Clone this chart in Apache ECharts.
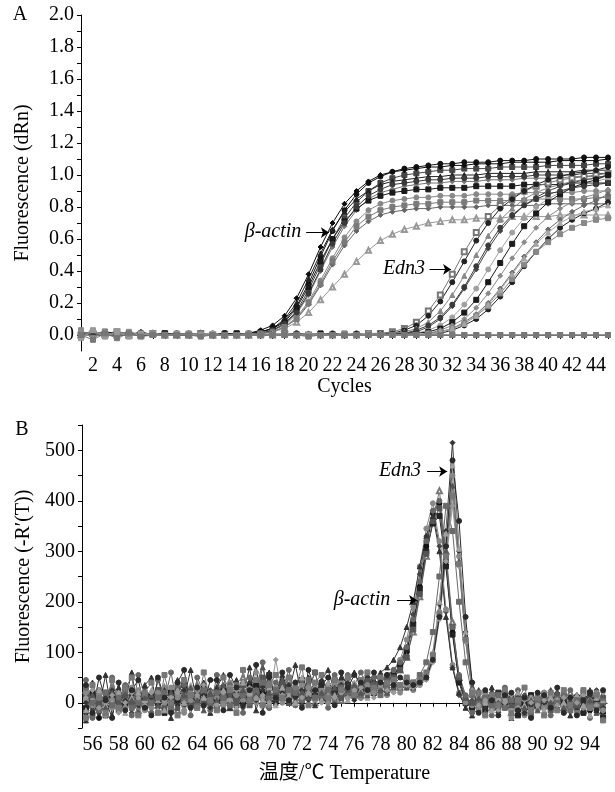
<!DOCTYPE html>
<html><head><meta charset="utf-8">
<script src="https://cdn.jsdelivr.net/npm/echarts@6/dist/echarts.min.js"></script>
<style>html,body{margin:0;padding:0;background:#fff}#c{width:615px;height:792px}</style>
</head><body><div id="c"></div>
<script>
// ---------- Panel A: amplification curves ----------
const cycles = [1,2,3,4,5,6,7,8,9,10,11,12,13,14,15,16,17,18,19,20,21,22,23,24,25,26,27,28,29,30,31,32,33,34,35,36,37,38,39,40,41,42,43,44,45];
const cycleLabels = [2,4,6,8,10,12,14,16,18,20,22,24,26,28,30,32,34,36,38,40,42,44];
const dRnLabels = [0,0.2,0.4,0.6,0.8,1.0,1.2,1.4,1.6,1.8,2.0];

const bActin1 = [0.01,0.02,0.00,0.01,0.00,0.01,0.00,0.00,0.01,0.00,0.00,0.00,0.01,0.00,0.01,
 0.02,0.04,0.09,0.18,0.32,0.49,0.65,0.78,0.88,0.95,0.99,1.02,1.04,1.05,1.06,
 1.07,1.07,1.08,1.08,1.08,1.09,1.09,1.09,1.10,1.10,1.10,1.10,1.11,1.11,1.11];
const bActin2 = [0.00,0.01,0.02,0.00,0.01,0.00,0.00,0.01,0.00,0.00,0.01,0.00,0.00,0.01,0.00,
 0.01,0.03,0.07,0.15,0.28,0.44,0.60,0.73,0.83,0.90,0.95,0.98,1.00,1.01,1.02,
 1.03,1.03,1.04,1.04,1.04,1.05,1.05,1.05,1.05,1.06,1.06,1.06,1.06,1.07,1.07];
const bActin3 = [0.02,0.00,0.01,0.02,0.00,0.00,0.01,0.00,0.00,0.01,0.00,0.00,0.00,0.00,0.01,
 0.02,0.04,0.10,0.20,0.35,0.51,0.66,0.77,0.85,0.90,0.94,0.96,0.97,0.98,0.99,
 0.99,1.00,1.00,1.00,1.01,1.01,1.01,1.01,1.02,1.02,1.02,1.02,1.03,1.03,1.03];
const bActin4 = [0.00,0.01,0.00,0.02,0.01,0.00,0.00,0.00,0.01,0.00,0.00,0.01,0.00,0.00,0.00,
 0.01,0.03,0.06,0.13,0.25,0.40,0.55,0.68,0.78,0.85,0.89,0.91,0.93,0.94,0.95,
 0.95,0.96,0.96,0.96,0.97,0.97,0.97,0.98,0.98,0.98,0.98,0.99,0.99,0.99,0.99];
const bActin5 = [0.01,0.00,0.02,0.01,0.00,0.01,0.00,0.01,0.00,0.00,0.00,0.00,0.01,0.00,0.00,
 0.02,0.04,0.08,0.17,0.30,0.46,0.60,0.71,0.79,0.84,0.87,0.89,0.90,0.91,0.91,
 0.92,0.92,0.92,0.93,0.93,0.93,0.93,0.94,0.94,0.94,0.94,0.95,0.95,0.95,0.95];
const bActin6 = [0.00,0.02,0.01,0.00,0.00,0.01,0.01,0.00,0.00,0.01,0.00,0.00,0.00,0.01,0.00,
 0.01,0.02,0.05,0.11,0.21,0.34,0.48,0.61,0.71,0.78,0.82,0.84,0.85,0.86,0.86,
 0.87,0.87,0.87,0.88,0.88,0.88,0.88,0.89,0.89,0.89,0.89,0.89,0.90,0.90,0.90];
const bActin7 = [0.01,0.01,0.00,0.00,0.02,0.00,0.00,0.00,0.01,0.00,0.01,0.00,0.00,0.00,0.01,
 0.01,0.02,0.05,0.10,0.19,0.31,0.44,0.56,0.65,0.71,0.75,0.77,0.78,0.79,0.79,
 0.80,0.80,0.80,0.80,0.81,0.81,0.81,0.81,0.81,0.82,0.82,0.82,0.82,0.82,0.82];
const bActin8 = [0.00,0.01,0.01,0.00,0.00,0.00,0.01,0.00,0.00,0.00,0.01,0.00,0.00,0.00,0.00,
 0.01,0.02,0.04,0.08,0.14,0.22,0.30,0.38,0.46,0.53,0.59,0.63,0.66,0.68,0.70,
 0.71,0.72,0.72,0.73,0.73,0.73,0.74,0.74,0.74,0.74,0.75,0.75,0.75,0.75,0.75];
const bActin9 = [0.01,0.00,0.00,0.01,0.00,0.02,0.00,0.00,0.00,0.01,0.00,0.00,0.01,0.00,0.01,
 0.03,0.06,0.12,0.23,0.38,0.55,0.70,0.82,0.90,0.96,1.00,1.02,1.03,1.04,1.05,
 1.05,1.06,1.06,1.07,1.07,1.07,1.08,1.08,1.08,1.08,1.09,1.09,1.09,1.09,1.10];
const bActin10 = [0.00,0.00,0.01,0.01,0.00,0.00,0.00,0.01,0.00,0.00,0.00,0.01,0.00,0.00,0.00,
 0.01,0.03,0.07,0.14,0.26,0.41,0.57,0.70,0.80,0.87,0.91,0.94,0.95,0.96,0.97,
 0.97,0.98,0.98,0.98,0.99,0.99,0.99,0.99,1.00,1.00,1.00,1.00,1.01,1.01,1.01];
const bActin11 = [0.01,0.02,0.00,0.00,0.01,0.00,0.00,0.01,0.00,0.00,0.00,0.00,0.00,0.01,0.00,
 0.01,0.02,0.05,0.10,0.20,0.32,0.46,0.58,0.68,0.74,0.78,0.80,0.81,0.82,0.82,
 0.83,0.83,0.83,0.84,0.84,0.84,0.84,0.84,0.85,0.85,0.85,0.85,0.85,0.86,0.86];

const edn3_1 = [0.00,0.01,0.00,0.02,0.00,0.00,0.01,0.00,0.00,0.00,0.01,0.00,0.00,0.00,0.00,
 0.00,0.00,0.01,0.00,0.00,0.00,0.00,0.00,0.00,0.01,0.01,0.02,0.04,0.08,0.15,
 0.25,0.38,0.52,0.64,0.74,0.81,0.86,0.90,0.93,0.95,0.97,0.98,0.99,1.00,1.01];
const edn3_2 = [0.01,0.00,0.00,0.01,0.00,0.00,0.00,0.01,0.00,0.00,0.00,0.00,0.01,0.00,0.00,
 0.00,0.00,0.00,0.01,0.00,0.00,0.00,0.00,0.01,0.00,0.01,0.01,0.03,0.06,0.12,
 0.21,0.33,0.46,0.59,0.70,0.79,0.85,0.90,0.94,0.97,0.99,1.01,1.02,1.03,1.05];
const edn3_3 = [0.00,0.00,0.01,0.00,0.01,0.00,0.00,0.00,0.00,0.01,0.00,0.00,0.00,0.00,0.01,
 0.00,0.00,0.00,0.00,0.01,0.00,0.00,0.00,0.00,0.00,0.00,0.01,0.02,0.04,0.08,
 0.15,0.25,0.37,0.50,0.62,0.72,0.79,0.85,0.89,0.92,0.94,0.96,0.97,0.98,1.00];
const edn3_4 = [0.01,0.01,0.00,0.00,0.00,0.01,0.00,0.00,0.01,0.00,0.00,0.00,0.00,0.00,0.00,
 0.00,0.01,0.00,0.00,0.00,0.00,0.01,0.00,0.00,0.00,0.00,0.00,0.01,0.02,0.05,
 0.10,0.18,0.29,0.41,0.54,0.65,0.74,0.81,0.86,0.90,0.93,0.95,0.97,0.98,1.00];
const edn3_5 = [0.00,0.00,0.00,0.01,0.00,0.00,0.01,0.00,0.00,0.00,0.00,0.01,0.00,0.00,0.00,
 0.00,0.00,0.00,0.01,0.00,0.00,0.00,0.00,0.00,0.01,0.00,0.00,0.00,0.01,0.03,
 0.06,0.11,0.19,0.29,0.41,0.53,0.64,0.73,0.80,0.85,0.89,0.92,0.94,0.96,0.98];
const edn3_6 = [0.01,0.00,0.01,0.00,0.00,0.00,0.00,0.01,0.00,0.00,0.00,0.00,0.00,0.01,0.00,
 0.00,0.00,0.00,0.00,0.00,0.01,0.00,0.00,0.00,0.00,0.00,0.00,0.00,0.01,0.02,
 0.04,0.08,0.14,0.22,0.33,0.45,0.57,0.68,0.76,0.83,0.88,0.92,0.95,0.97,1.00];
const edn3_7 = [0.00,0.01,0.00,0.00,0.01,0.00,0.00,0.00,0.00,0.00,0.01,0.00,0.00,0.00,0.00,
 0.00,0.00,0.01,0.00,0.00,0.00,0.00,0.01,0.00,0.00,0.00,0.00,0.00,0.00,0.01,
 0.03,0.06,0.10,0.17,0.26,0.37,0.48,0.58,0.67,0.74,0.79,0.83,0.86,0.88,0.91];
const edn3_8 = [0.00,0.00,0.01,0.00,0.00,0.00,0.01,0.00,0.00,0.01,0.00,0.00,0.00,0.00,0.00,
 0.00,0.00,0.00,0.00,0.01,0.00,0.00,0.00,0.00,0.00,0.01,0.00,0.00,0.00,0.01,
 0.02,0.04,0.08,0.13,0.20,0.29,0.39,0.49,0.58,0.66,0.72,0.77,0.81,0.84,0.88];
const edn3_9 = [0.01,0.00,0.00,0.00,0.01,0.00,0.00,0.00,0.01,0.00,0.00,0.00,0.01,0.00,0.00,
 0.00,0.00,0.00,0.00,0.00,0.00,0.01,0.00,0.00,0.00,0.00,0.00,0.01,0.00,0.00,
 0.01,0.03,0.06,0.10,0.16,0.24,0.33,0.43,0.52,0.60,0.67,0.72,0.76,0.79,0.83];
const edn3_10 = [0.00,0.01,0.00,0.00,0.00,0.00,0.01,0.00,0.00,0.00,0.00,0.00,0.00,0.00,0.01,
 0.00,0.00,0.00,0.00,0.00,0.00,0.00,0.01,0.00,0.00,0.00,0.00,0.00,0.00,0.01,
 0.02,0.04,0.07,0.12,0.18,0.26,0.35,0.44,0.52,0.58,0.63,0.67,0.70,0.72,0.73];
const edn3_11 = [0.00,0.00,0.00,0.01,0.00,0.01,0.00,0.00,0.00,0.00,0.00,0.01,0.00,0.00,0.00,
 0.00,0.01,0.00,0.00,0.00,0.00,0.00,0.00,0.00,0.00,0.01,0.00,0.00,0.00,0.00,
 0.02,0.04,0.07,0.12,0.19,0.28,0.38,0.48,0.57,0.64,0.70,0.74,0.77,0.79,0.81];
const edn3_12 = [0.01,0.00,0.00,0.00,0.00,0.00,0.00,0.01,0.00,0.00,0.00,0.00,0.00,0.00,0.00,
 0.00,0.00,0.00,0.01,0.00,0.00,0.00,0.00,0.00,0.00,0.00,0.01,0.01,0.03,0.06,
 0.11,0.19,0.30,0.43,0.56,0.67,0.75,0.81,0.85,0.88,0.90,0.92,0.93,0.94,0.95];

const ntc1 = [0.03,-0.02,0.02,-0.01,0.02,0.00,0.01,0.00,0.00,0.01,0.00,0.00,0.00,0.00,0.00,
 0.00,0.00,0.00,0.00,0.00,0.00,0.00,0.00,0.00,0.00,0.00,0.00,0.00,0.00,0.00,
 0.00,0.00,0.00,0.00,0.00,0.00,0.00,0.00,0.00,0.00,0.00,0.00,0.00,0.00,0.00];
const ntc2 = [-0.02,0.03,-0.01,0.02,-0.01,0.01,0.00,0.00,0.01,0.00,0.00,0.00,0.00,0.00,0.00,
 0.00,0.00,0.00,0.00,0.00,0.00,0.00,0.00,0.00,0.00,0.00,0.00,0.00,0.00,0.00,
 0.00,0.00,0.00,0.00,0.00,0.00,0.00,0.00,0.00,0.00,0.00,0.00,0.00,0.00,0.00];
const ntc3 = [0.00,-0.03,0.01,-0.02,0.01,-0.01,0.00,0.00,0.00,0.00,-0.01,0.00,0.00,0.00,0.00,
 0.00,0.00,0.00,0.00,-0.01,0.00,0.00,0.00,0.00,0.00,0.00,0.00,0.00,0.00,0.00,
 0.00,0.00,0.00,0.00,0.00,0.00,0.00,0.00,0.00,0.00,0.00,0.00,0.00,0.00,0.00];

// ---------- Panel B: melt curves ----------
const temps = [55.5,56,56.5,57,57.5,58,58.5,59,59.5,60,
 60.5,61,61.5,62,62.5,63,63.5,64,64.5,65,
 65.5,66,66.5,67,67.5,68,68.5,69,69.5,70,
 70.5,71,71.5,72,72.5,73,73.5,74,74.5,75,
 75.5,76,76.5,77,77.5,78,78.5,79,79.5,80,
 80.5,81,81.5,82,82.5,83,83.5,84,84.5,85,
 85.5,86,86.5,87,87.5,88,88.5,89,89.5,90,
 90.5,91,91.5,92,92.5,93,93.5,94,94.5,95];
const tempLabels = [56,58,60,62,64,66,68,70,72,74,76,78,80,82,84,86,88,90,92,94];
const meltLabels = [0,100,200,300,400,500];

const meltB1 = [-20,5,-30,10,-5,15,-10,20,0,10,
 -5,25,5,-15,20,0,10,-10,30,5,
 15,-5,25,10,0,35,5,20,-10,15,
 40,10,25,0,30,15,5,35,10,20,
 15,30,10,25,35,30,45,55,70,100,
 160,230,310,375,395,280,140,45,5,-10,
 10,-5,15,0,-10,5,-15,10,-20,0,
 10,-5,5,15,-10,0,10,-15,5,-20];
const meltB2 = [10,-15,20,-5,25,0,15,-20,5,30,
 0,15,-10,25,10,-5,20,5,0,25,
 -5,20,10,30,-10,15,45,0,25,10,
 5,30,15,-5,20,40,10,25,0,30,
 25,10,35,20,40,45,55,65,80,110,
 175,255,330,380,310,180,70,15,-5,5,
 -10,5,20,-5,10,0,-15,15,5,-10,
 0,20,-10,5,-5,15,0,-10,25,-25];
const meltB3 = [25,0,-10,15,30,-5,10,20,-15,5,
 20,-5,30,10,-15,15,0,35,10,-5,
 30,5,-10,20,50,10,25,0,40,15,
 10,45,5,20,35,0,25,15,30,5,
 20,35,15,30,25,40,40,50,65,90,
 140,210,290,360,420,300,160,50,10,-5,
 5,15,-10,10,0,-20,10,5,-5,15,
 -5,10,0,-10,20,5,-15,10,0,5];
const meltB4 = [-10,20,5,-25,15,10,-5,25,10,-10,
 15,0,-20,20,5,35,-5,10,20,0,
 5,30,15,-5,20,10,35,15,55,5,
 25,0,15,45,10,20,40,5,25,15,
 35,20,25,40,30,35,40,55,75,105,
 155,225,300,355,370,270,135,40,0,-10,
 0,-15,5,20,-5,10,-25,0,15,-10,
 5,-10,15,0,-5,10,-20,5,15,-30];
const meltB5 = [5,-20,15,0,-10,20,5,-5,25,0,
 -10,10,30,0,15,-20,25,10,-5,15,
 20,0,40,-5,25,15,0,30,10,25,
 15,25,-5,35,15,5,20,30,15,40,
 10,25,40,15,30,50,50,65,85,125,
 190,270,345,395,320,185,75,20,0,-5,
 10,0,-10,5,15,-5,0,-25,10,5,
 -10,5,15,-5,0,10,5,-10,-5,10];
const meltB6 = [15,-25,0,20,5,-15,30,0,15,-5,
 5,25,-10,5,30,10,-5,20,0,10,
 -10,15,20,5,35,-5,15,50,5,20,
 35,5,20,10,25,60,10,20,45,10,
 25,15,30,45,20,35,45,50,65,90,
 145,215,295,360,385,285,150,50,10,0,
 -5,10,5,-10,20,0,10,-20,0,5,
 15,-15,0,10,-5,-10,5,20,-10,0];
const meltB7 = [-35,40,-10,55,-25,30,5,60,-20,35,
 50,-15,25,-30,45,10,65,-5,40,-20,
 30,55,-10,45,15,70,-15,35,60,0,
 55,20,75,10,50,-5,45,65,20,50,
 40,60,30,55,45,60,70,85,110,150,
 200,270,330,370,300,170,70,20,-10,-25,
 25,-20,30,-15,15,-30,20,5,-25,15,
 -20,25,-10,20,-25,15,-5,25,-15,-30];
const meltB8 = [45,-30,25,-15,50,-5,35,-25,55,15,
 -20,45,5,60,-10,35,-25,50,20,-15,
 55,-5,35,20,-20,50,25,80,-10,40,
 25,65,-5,45,30,60,15,-10,55,35,
 55,35,60,30,50,45,55,65,80,110,
 165,240,320,380,400,290,150,55,15,-20,
 -15,20,-25,15,30,-10,25,-20,10,-5,
 20,-25,10,-15,25,-5,15,-30,20,-10];
const meltE1 = [0,15,-20,10,25,-10,5,15,-5,20,
 10,-10,15,5,-5,25,10,0,15,-10,
 25,10,0,20,15,40,5,25,10,0,
 20,35,10,25,5,15,30,10,20,35,
 15,5,20,30,15,25,20,30,25,35,
 30,40,55,95,195,340,515,300,140,40,
 5,-10,10,20,-5,0,15,-20,-5,10,
 0,15,-10,5,10,-15,0,15,5,-10];
const meltE2 = [20,-5,10,-25,5,15,-10,30,5,-15,
 -5,20,0,30,10,-15,5,25,-5,20,
 10,-5,30,15,5,20,60,10,-5,30,
 0,20,40,15,30,10,25,0,40,20,
 30,20,10,35,20,30,15,35,20,30,
 25,35,50,90,180,310,450,290,125,25,
 -10,15,0,-5,10,-30,5,10,-15,0,
 20,-5,5,-20,0,10,-10,5,20,-15];
const meltE3 = [-15,10,25,-5,0,20,-20,10,20,5,
 25,5,-15,15,25,0,35,-10,10,5,
 0,25,10,-10,40,20,10,5,30,-5,
 30,15,0,50,20,25,5,40,15,25,
 5,40,25,10,30,20,35,25,30,40,
 35,45,60,100,200,335,470,305,140,30,
 15,0,-15,10,5,-10,20,-5,10,-10,
 -15,10,5,0,-10,15,-5,-25,10,5];
const meltE4 = [30,0,-15,20,-5,10,25,-10,0,15,
 0,10,20,-10,35,5,15,-5,25,0,
 20,10,-5,35,15,0,20,40,10,25,
 10,25,20,5,45,10,15,25,5,30,
 20,30,15,25,35,15,30,40,30,45,
 40,55,80,140,250,390,340,200,80,15,
 0,10,-5,15,-10,5,0,10,-25,5,
 10,-10,0,15,-15,5,20,0,-5,10];
const meltE5 = [-25,15,5,-10,20,0,15,5,-20,10,
 15,-5,10,20,-10,15,30,5,-15,20,
 5,35,15,0,25,5,15,70,20,10,
 45,0,30,20,10,35,20,15,30,10,
 25,35,20,15,40,25,20,30,35,30,
 30,40,50,85,175,300,430,280,130,30,
 10,-20,5,0,15,-5,10,-10,5,-15,
 5,0,20,-10,5,-5,10,5,-20,15];
const meltE6 = [10,25,-10,5,15,-20,0,20,10,-5,
 20,-15,5,10,20,0,-10,15,35,5,
 -5,20,5,25,-5,30,10,15,0,85,
 15,5,35,10,20,30,0,15,10,20,
 10,25,30,20,10,35,25,20,30,35,
 30,35,45,80,165,280,390,270,120,25,
 -5,5,10,-15,0,15,-10,5,0,-5,
 5,15,-5,10,-5,0,15,-10,-5,20];
const meltE7 = [-30,35,10,-20,45,-10,30,50,-25,20,
 40,-20,55,0,-25,45,15,-10,60,5,
 -15,50,25,-20,65,5,45,-5,35,55,
 10,50,30,70,-5,40,55,10,45,25,
 50,15,45,60,30,50,40,45,35,50,
 40,45,60,95,175,290,410,275,125,20,
 20,-25,15,-5,25,-20,5,30,-15,10,
 -25,20,-15,25,-5,-20,25,-10,15,-35];
const meltE8 = [35,-20,50,5,-30,40,-15,25,45,-10,
 -25,50,10,-20,40,65,-10,30,-5,45,
 45,-15,55,30,-5,25,75,-20,50,10,
 60,5,40,-10,65,25,35,50,-5,60,
 30,55,40,25,60,40,55,35,50,40,
 35,40,50,85,170,310,480,360,170,40,
 -20,25,5,-25,15,20,-15,10,-30,20,
 15,-10,30,-20,10,-25,5,20,-15,25];

// annotation arrows (data coordinates: start, end)
const arrowA_actin = [[19.8, 0.64], [21.7, 0.64]];
const arrowA_edn3 = [[30.1, 0.41], [31.9, 0.41]];
const arrowB_edn3 = [[81.56, 458], [83.09, 458]];
const arrowB_actin = [[79.26, 203], [80.79, 203]];

const serif = '"Liberation Serif","DejaVu Serif",serif';
const FS = 20;
const pair = (xs, ys) => xs.map((x, i) => [x, ys[i]]);

const ampDefs = [
  [bActin1,'#111','circle'],[bActin2,'#444','rect'],[bActin3,'#222','triangle'],
  [bActin4,'#777','diamond'],[bActin5,'#1a1a1a','rect'],[bActin6,'#888','circle'],
  [bActin7,'#666','diamond'],[bActin8,'#999','emptyTriangle'],[bActin9,'#0d0d0d','diamond'],
  [bActin10,'#3a3a3a','circle'],[bActin11,'#7a7a7a','rect'],
  [edn3_1,'#777','emptyRect'],[edn3_2,'#222','circle'],[edn3_3,'#888','triangle'],
  [edn3_4,'#444','diamond'],[edn3_5,'#a0a0a0','circle'],[edn3_6,'#1a1a1a','rect'],
  [edn3_7,'#8a8a8a','diamond'],[edn3_8,'#6a6a6a','diamond'],[edn3_9,'#222','circle'],
  [edn3_10,'#888','rect'],[edn3_11,'#a5a5a5','triangle'],[edn3_12,'#3a3a3a','circle'],
  [ntc1,'#8c8c8c','rect'],[ntc2,'#999','rect'],[ntc3,'#777','rect']
];
const meltDefs = [
  [meltB1,'#111','circle'],[meltB2,'#444','diamond'],[meltB3,'#777','emptyTriangle'],
  [meltB4,'#222','rect'],[meltB5,'#888','circle'],[meltB6,'#555','rect'],
  [meltB7,'#333','triangle'],[meltB8,'#666','circle'],
  [meltE1,'#333','diamond'],[meltE2,'#888','circle'],[meltE3,'#a0a0a0','triangle'],
  [meltE4,'#6a6a6a','rect'],[meltE5,'#555','triangle'],[meltE6,'#999','diamond'],
  [meltE7,'#777','rect'],[meltE8,'#2a2a2a','circle']
];

const arrowMark = (pairs) => ({
  silent: true, symbol: ['none', 'arrow'], symbolSize: 8,
  lineStyle: {color: '#000', width: 1, type: 'solid'}, label: {show: false},
  emphasis: {disabled: true},
  data: pairs.map(p => [{coord: p[0]}, {coord: p[1]}])
});

const series = [];
ampDefs.forEach(([ys, c, s]) => series.push({
  type: 'line', xAxisIndex: 0, yAxisIndex: 0, data: pair(cycles, ys),
  symbol: s, symbolSize: 5, lineStyle: {width: 1, color: c},
  itemStyle: {color: c, borderColor: c}, silent: true, z: 2
}));
meltDefs.forEach(([ys, c, s]) => series.push({
  type: 'line', xAxisIndex: 1, yAxisIndex: 1, data: pair(temps, ys),
  symbol: s, symbolSize: 5, lineStyle: {width: 1, color: c},
  itemStyle: {color: c, borderColor: c}, silent: true, z: 2
}));
series.push({type: 'line', xAxisIndex: 0, yAxisIndex: 0, data: [], markLine: arrowMark([arrowA_actin, arrowA_edn3]), z: 5});
series.push({type: 'line', xAxisIndex: 1, yAxisIndex: 1, data: [], markLine: arrowMark([arrowB_edn3, arrowB_actin]), z: 5});

const axisCommon = {
  axisLine: {show: true, lineStyle: {color: '#000', width: 1}},
  splitLine: {show: false},
  nameTextStyle: {fontFamily: serif, fontSize: FS, color: '#000'}
};
const range = (a, b, s) => { const r = []; for (let v = a; v <= b + 1e-9; v += s) r.push(+v.toFixed(2)); return r; };
const lbl = (vals, margin, fmt) => ({customValues: vals, fontFamily: serif, fontSize: FS, color: '#000', margin: margin, formatter: fmt});

const option = {
  animation: false,
  backgroundColor: '#fff',
  grid: [
    {left: 81, top: 15, width: 527, height: 336},
    {left: 82, top: 425, width: 525, height: 303}
  ],
  xAxis: [
    Object.assign({}, axisCommon, {
      type: 'value', gridIndex: 0, min: 1, max: 45,
      name: 'Cycles', nameLocation: 'middle', nameGap: 24,
      axisTick: {show: true, length: 4, customValues: cycles, lineStyle: {color: '#000'}},
      axisLabel: lbl(cycleLabels, 5, v => String(v))
    }),
    Object.assign({}, axisCommon, {
      type: 'value', gridIndex: 1, min: 55.2, max: 95.3,
      name: '温度/℃ Temperature', nameLocation: 'middle', nameGap: 36,
      nameTextStyle: {fontFamily: '"Liberation Serif","Noto Sans CJK SC",serif', fontSize: FS, color: '#000'},
      axisTick: {show: true, length: 4, customValues: range(56, 95, 1), lineStyle: {color: '#000'}},
      axisLabel: lbl(tempLabels, 7, v => String(v))
    })
  ],
  yAxis: [
    Object.assign({}, axisCommon, {
      type: 'value', gridIndex: 0, min: -0.1, max: 2.0,
      name: 'Fluorescence (dRn)', nameLocation: 'middle', nameGap: 48,
      axisTick: {show: true, length: 4, customValues: range(0, 2.0, 0.1), lineStyle: {color: '#000'}},
      axisLabel: lbl(dRnLabels, 7, v => (+v).toFixed(1))
    }),
    Object.assign({}, axisCommon, {
      type: 'value', gridIndex: 1, min: -50, max: 550,
      name: 'Fluorescence (-R\u2032(T))', nameLocation: 'middle', nameGap: 48,
      axisTick: {show: true, length: 4, customValues: range(-50, 550, 50), lineStyle: {color: '#000'}},
      axisLabel: lbl(meltLabels, 7, v => String(v))
    })
  ],
  graphic: [
    {type: 'text', x: 20, y: 15, style: {text: 'A', font: FS + 'px ' + serif, fill: '#000', align: 'center', verticalAlign: 'middle'}},
    {type: 'text', x: 22, y: 430, style: {text: 'B', font: FS + 'px ' + serif, fill: '#000', align: 'center', verticalAlign: 'middle'}},
    {type: 'text', x: 273, y: 232, style: {text: 'β-actin', font: 'italic ' + FS + 'px ' + serif, fill: '#000', align: 'center', verticalAlign: 'middle'}},
    {type: 'text', x: 404, y: 269, style: {text: 'Edn3', font: 'italic ' + FS + 'px ' + serif, fill: '#000', align: 'center', verticalAlign: 'middle'}},
    {type: 'text', x: 400, y: 471, style: {text: 'Edn3', font: 'italic ' + FS + 'px ' + serif, fill: '#000', align: 'center', verticalAlign: 'middle'}},
    {type: 'text', x: 362, y: 600, style: {text: 'β-actin', font: 'italic ' + FS + 'px ' + serif, fill: '#000', align: 'center', verticalAlign: 'middle'}}
  ],
  series: series
};
const chart = echarts.init(document.getElementById('c'), null, {renderer: 'canvas'});
chart.setOption(option);
</script></body></html>
